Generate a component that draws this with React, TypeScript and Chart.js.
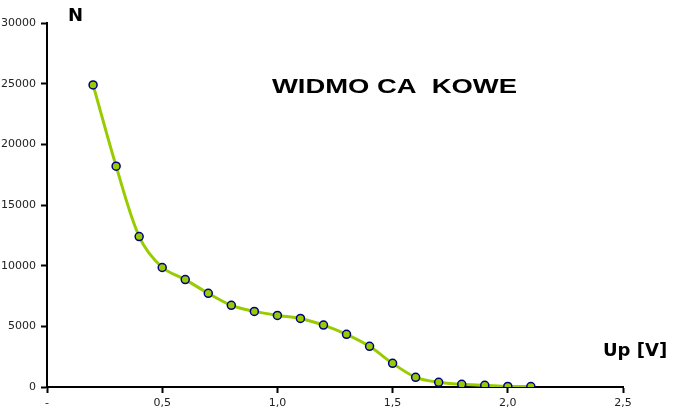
import React, { useEffect, useRef } from "react";
import { Chart, registerables } from "chart.js";

Chart.register(...registerables);

const voltages = [0.2, 0.3, 0.4, 0.5, 0.6, 0.7, 0.8, 0.9, 1.0, 1.1, 1.2, 1.3, 1.4, 1.5, 1.6, 1.7, 1.8, 1.9, 2.0, 2.1];
const counts = [24900, 18200, 12400, 9850, 8850, 7720, 6730, 6230, 5900, 5650, 5100, 4340, 3350, 1950, 800, 390, 220, 140, 50, 40];
const title = "WIDMO CA  KOWE";
const yTitle = "N";
const xTitle = "Up [V]";

const textPlugin = {
  id: "texts",
  afterDraw(chart: any) {
    const ctx = chart.ctx;
    ctx.save();
    ctx.fillStyle = "#000";
    ctx.textBaseline = "alphabetic";
    ctx.textAlign = "left";
    ctx.font = "bold 20px 'Liberation Sans', Arial, sans-serif";
    const w = ctx.measureText(title).width;
    const sx = 245 / w;
    ctx.save();
    ctx.translate(272, 93);
    ctx.scale(sx, 1);
    ctx.fillText(title, 0, 0);
    ctx.restore();
    ctx.font = "bold 18px 'DejaVu Sans', sans-serif";
    ctx.fillText(yTitle, 68, 21);
    ctx.fillText(xTitle, 603, 356);
    ctx.restore();
  },
};

export default function App() {
  const ref = useRef<HTMLCanvasElement>(null);
  useEffect(() => {
    if (!ref.current) return;
    const data = voltages.map((x, i) => ({ x, y: counts[i] }));
    const chart = new Chart(ref.current, {
      type: "scatter",
      data: {
        datasets: [
          {
            data,
            showLine: true,
            borderColor: "#99cc00",
            borderWidth: 3,
            tension: 0.3,
            pointRadius: 4,
            pointBackgroundColor: "#99cc00",
            pointBorderColor: "#000080",
            pointBorderWidth: 1.5,
          },
        ],
      },
      options: {
        animation: false,
        responsive: false,
        layout: { padding: { top: 23, right: 53, left: 0, bottom: 0 } },
        plugins: { legend: { display: false }, tooltip: { enabled: false } },
        scales: {
          x: {
            type: "linear",
            min: 0,
            max: 2.5,
            afterFit: (s: any) => { s.height = 23; },
            ticks: {
              stepSize: 0.5,
              padding: 4,
              color: "#222",
              font: { family: "'DejaVu Sans', sans-serif", size: 11 },
              callback: (v: any) => (v === 0 ? "-" : Number(v).toFixed(1).replace(".", ",")),
              maxRotation: 0,
            },
            grid: { drawOnChartArea: false, drawTicks: true, tickLength: 6, tickColor: "#000", tickWidth: 2 },
            border: { color: "#000", width: 2 },
          },
          y: {
            min: 0,
            max: 30000,
            afterFit: (s: any) => { s.width = 47; },
            ticks: {
              stepSize: 5000,
              padding: 5,
              color: "#222",
              font: { family: "'DejaVu Sans', sans-serif", size: 11 },
              callback: (v: any) => String(v),
            },
            grid: { drawOnChartArea: false, drawTicks: true, tickLength: 6, tickColor: "#000", tickWidth: 2 },
            border: { color: "#000", width: 2 },
          },
        },
      },
      plugins: [textPlugin],
    });
    return () => chart.destroy();
  }, []);
  return (
    <div style={{ position: "absolute", left: 0, top: 0, width: 676, height: 410, background: "#fff" }}>
      <canvas ref={ref} width={676} height={410} style={{ width: 676, height: 410 }} />
    </div>
  );
}
